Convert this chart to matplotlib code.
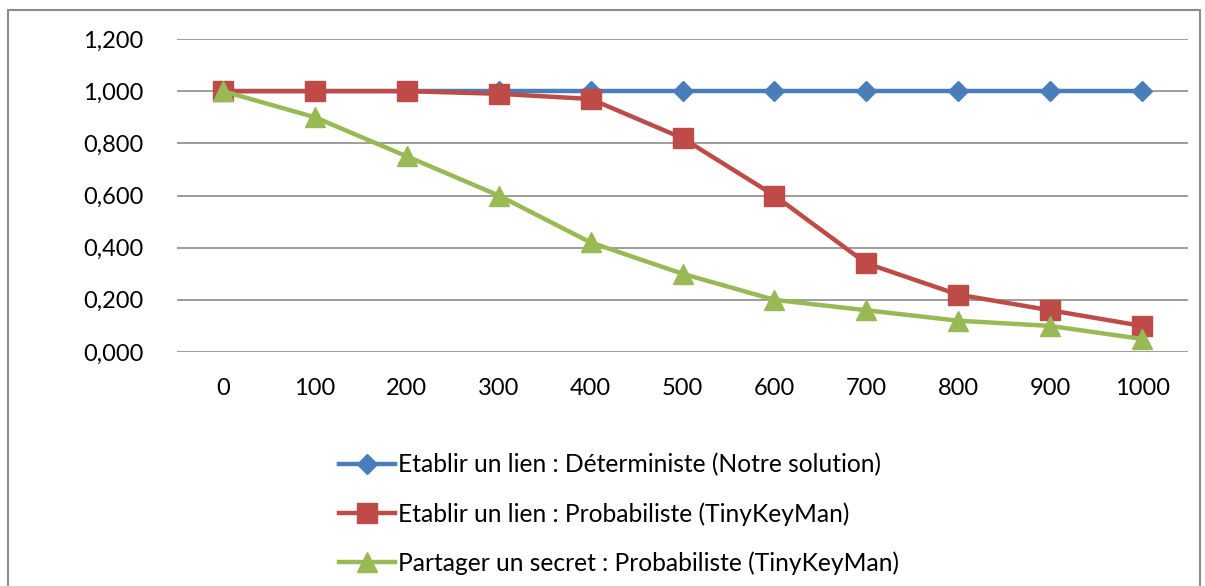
import matplotlib
matplotlib.use("Agg")
import matplotlib.pyplot as plt
from matplotlib.patches import Rectangle

categories = ["0", "100", "200", "300", "400", "500", "600", "700", "800", "900", "1000"]
deterministe = [1.0, 1.0, 1.0, 1.0, 1.0, 1.0, 1.0, 1.0, 1.0, 1.0, 1.0]
probabiliste_lien = [1.0, 1.0, 1.0, 0.99, 0.97, 0.82, 0.60, 0.34, 0.22, 0.16, 0.10]
probabiliste_secret = [1.0, 0.90, 0.75, 0.60, 0.42, 0.30, 0.20, 0.16, 0.12, 0.10, 0.05]
labels = ["Etablir un lien : Déterministe (Notre solution)",
          "Etablir un lien : Probabiliste (TinyKeyMan)",
          "Partager un secret : Probabiliste (TinyKeyMan)"]
yticks = [0.0, 0.2, 0.4, 0.6, 0.8, 1.0, 1.2]

plt.rcParams['font.family'] = ['Lato', 'DejaVu Sans']

W, H = 1205, 586
fig = plt.figure(figsize=(W / 100, H / 100), dpi=100)
ax = fig.add_axes([177 / W, 1 - 352 / H, (1188 - 177) / W, (352 - 39) / H])

x = list(range(len(categories)))
ax.plot(x, deterministe, color="#4A7EBB", lw=3.2, marker="D", ms=10, label=labels[0], zorder=3)
ax.plot(x, probabiliste_lien, color="#BE4B48", lw=3.2, marker="s", ms=14, label=labels[1], zorder=4)
ax.plot(x, probabiliste_secret, color="#98B954", lw=3.2, marker="^", ms=14, label=labels[2], zorder=5)

ax.set_xlim(-0.5, len(categories) - 0.5)
ax.set_ylim(0, 1.2)
ax.set_yticks(yticks)
ax.set_yticklabels([f"{v:.3f}".replace(".", ",") for v in yticks], fontsize=17)
ax.set_xticks(x)
ax.set_xticklabels(categories, fontsize=17)
ax.tick_params(length=0)
ax.tick_params(axis='x', pad=19)
ax.tick_params(axis='y', pad=24)
ax.grid(axis='y', color="#8C8C8C", lw=1.2)
for s in ax.spines.values():
    s.set_visible(False)
ax.set_axisbelow(True)
for line in ax.lines:
    line.set_clip_on(False)

leg = fig.legend(loc="upper left", bbox_to_anchor=(329 / W, 1 - 443 / H), frameon=False,
                 fontsize=17.7, handlelength=2.3, handletextpad=0.1, labelspacing=1.05,
                 borderaxespad=0)

fig.patches.append(Rectangle((8 / W, -0.05), (1200 - 8) / W, 1.05 - 10 / H,
                             transform=fig.transFigure, fill=False, edgecolor="#8C8C8C", lw=1.5))

fig.savefig("out.png", dpi=100)
